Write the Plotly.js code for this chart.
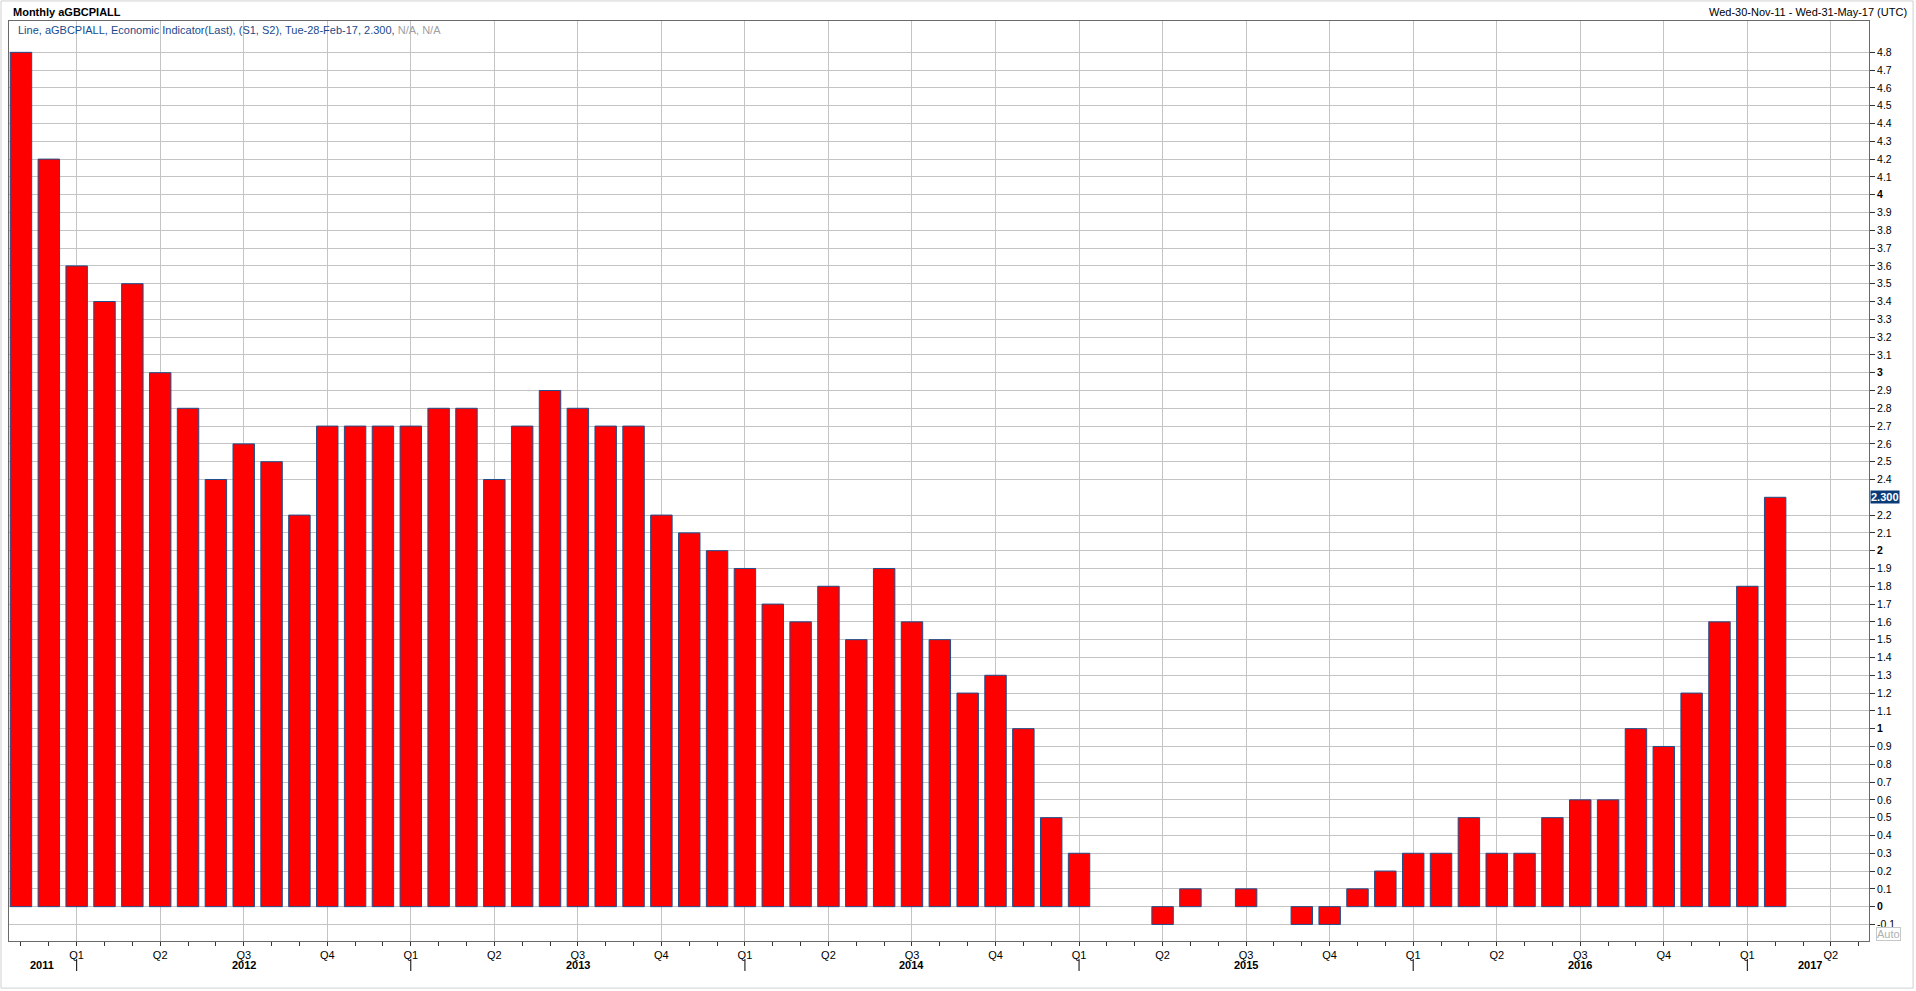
<!DOCTYPE html>
<html>
<head>
<meta charset="utf-8">
<script src="https://cdn.plot.ly/plotly-3.0.1.min.js"></script>
<style>
  html, body { margin: 0; padding: 0; background: #ffffff; }
  #chart { width: 1916px; height: 991px; }
</style>
</head>
<body>
<div id="chart"></div>
<script>
// ---- Data (UK CPI, monthly, Nov 2011 - Feb 2017) ----
const months = [
  "2011-11","2011-12",
  "2012-01","2012-02","2012-03","2012-04","2012-05","2012-06","2012-07","2012-08","2012-09","2012-10","2012-11","2012-12",
  "2013-01","2013-02","2013-03","2013-04","2013-05","2013-06","2013-07","2013-08","2013-09","2013-10","2013-11","2013-12",
  "2014-01","2014-02","2014-03","2014-04","2014-05","2014-06","2014-07","2014-08","2014-09","2014-10","2014-11","2014-12",
  "2015-01","2015-02","2015-03","2015-04","2015-05","2015-06","2015-07","2015-08","2015-09","2015-10","2015-11","2015-12",
  "2016-01","2016-02","2016-03","2016-04","2016-05","2016-06","2016-07","2016-08","2016-09","2016-10","2016-11","2016-12",
  "2017-01","2017-02"
];
const cpiValues = [
  4.8, 4.2,
  3.6, 3.4, 3.5, 3.0, 2.8, 2.4, 2.6, 2.5, 2.2, 2.7, 2.7, 2.7,
  2.7, 2.8, 2.8, 2.4, 2.7, 2.9, 2.8, 2.7, 2.7, 2.2, 2.1, 2.0,
  1.9, 1.7, 1.6, 1.8, 1.5, 1.9, 1.6, 1.5, 1.2, 1.3, 1.0, 0.5,
  0.3, 0.0, 0.0, -0.1, 0.1, 0.0, 0.1, 0.0, -0.1, -0.1, 0.1, 0.2,
  0.3, 0.3, 0.5, 0.3, 0.3, 0.5, 0.6, 0.6, 1.0, 0.9, 1.2, 1.6,
  1.8, 2.3
];
const yearLabels = ["2011","2012","2013","2014","2015","2016","2017"];
const quarterLabels = ["Q1","Q2","Q3","Q4"];
const lastValueLabel = "2.300";
const headerTitle = "Monthly aGBCPIALL";
const headerRange = "Wed-30-Nov-11 - Wed-31-May-17 (UTC)";
const seriesInfo = "Line, aGBCPIALL, Economic Indicator(Last), (S1, S2), Tue-28-Feb-17, 2.300";
const seriesInfoNA = "N/A, N/A";

// ---- Axis helpers ----
const startYear = 2011, startMonth = 11;      // first bar month
const windowEnd = 66;                          // May 2017 (end of the displayed window)
const xIdx = months.map((m, i) => i);
function monthOf(i) { return ((startMonth - 1 + i) % 12) + 1; }
function yearOf(i) { return startYear + Math.floor((startMonth - 1 + i) / 12); }

const qVals = [], qText = [], janIdx = [];
for (let i = 0; i <= windowEnd; i++) {
  const m = monthOf(i);
  if ((m - 1) % 3 === 0) { qVals.push(i); qText.push(quarterLabels[(m - 1) / 3]); }
  if (m === 1) janIdx.push(i);
}

// y ticks every 0.1, integers bold
const yVals = [], yText = [];
for (let k = -1; k <= 48; k++) {
  const v = k / 10;
  if (Math.abs(v - 2.3) < 1e-9) continue;
  yVals.push(v);
  yText.push(k % 10 === 0 ? "<b>" + (k / 10) + "</b>" : v.toFixed(1));
}

const FONT = "Tahoma, 'Liberation Sans', Arial, sans-serif";

const annotations = [];
// year labels
yearLabels.forEach(y => {
  const yr = parseInt(y, 10);
  const idxs = [];
  for (let i = 0; i <= windowEnd; i++) if (yearOf(i) === yr) idxs.push(i);
  let xpos;
  const jul = idxs.find(i => monthOf(i) === 7);
  if (idxs.length === 12 && jul !== undefined) xpos = jul;
  else xpos = idxs.reduce((a, b) => a + b, 0) / idxs.length + 0.25;
  annotations.push({
    x: xpos, xref: "x", y: -0.026, yref: "paper",
    text: "<b>" + y + "</b>", showarrow: false,
    xanchor: "center", yanchor: "middle",
    font: { family: FONT, size: 11, color: "#000" }
  });
});
// header
annotations.push({
  x: 0.001, xref: "paper", y: 1.0098, yref: "paper",
  text: "<b>" + headerTitle + "</b>", showarrow: false,
  xanchor: "left", yanchor: "middle",
  font: { family: FONT, size: 11, color: "#000" }
});
annotations.push({
  x: 1.0215, xref: "paper", y: 1.0098, yref: "paper",
  text: headerRange, showarrow: false,
  xanchor: "right", yanchor: "middle",
  font: { family: FONT, size: 11, color: "#000" }
});
annotations.push({
  x: 0.0035, xref: "paper", y: 0.9898, yref: "paper",
  text: seriesInfo + ", <span style='color:#a0a0a0'>" + seriesInfoNA + "</span>",
  showarrow: false, xanchor: "left", yanchor: "middle",
  font: { family: FONT, size: 11, color: "#1a4a8c" }
});
// last value tag
annotations.push({
  x: 1.0006, xref: "paper", y: cpiValues[cpiValues.length - 1], yref: "y",
  text: "<b>" + lastValueLabel + "</b>", showarrow: false,
  xanchor: "left", yanchor: "middle",
  bgcolor: "#0b3a78", borderpad: 0,
  font: { family: FONT, size: 11, color: "#ffffff" }
});
// Auto button
annotations.push({
  x: 1.004, xref: "paper", y: 0.0005, yref: "paper",
  text: "Auto", showarrow: false,
  xanchor: "left", yanchor: "bottom",
  bordercolor: "#c8c8c8", borderwidth: 1, borderpad: 0,
  font: { family: FONT, size: 11, color: "#b0b0b0" }
});

const shapes = janIdx.map(i => ({
  type: "line", xref: "x", yref: "paper",
  x0: i, x1: i, y0: -0.0196, y1: -0.0326,
  line: { color: "#000", width: 1 }
}));
// outer frame
shapes.push({
  type: "rect", xref: "paper", yref: "paper",
  x0: -0.0043, x1: 1.0237, y0: -0.0512, y1: 1.0218,
  line: { color: "#d0d0d0", width: 1 }
});

// zero-height bars draw no outline (as in the reference)
const outlineWidths = cpiValues.map(v => (v === 0 ? 0 : 1));

const trace = {
  type: "bar",
  x: xIdx,
  y: cpiValues,
  width: 0.77,
  marker: { color: "#ff0000", line: { color: "#1f4e8a", width: outlineWidths } },
  hoverinfo: "y"
};

const layout = {
  width: 1916, height: 991,
  margin: { l: 9, r: 47, t: 21, b: 50 },
  paper_bgcolor: "#ffffff", plot_bgcolor: "#ffffff",
  showlegend: false,
  bargap: 0,
  font: { family: FONT, size: 11, color: "#000" },
  xaxis: {
    range: [-0.43, 66.37],
    tickmode: "array", tickvals: qVals, ticktext: qText,
    ticks: "outside", ticklen: 4, tickcolor: "#333",
    minor: { dtick: 1, tick0: 0, ticks: "outside", ticklen: 4, tickcolor: "#333", showgrid: false },
    showgrid: true, gridcolor: "#c4c4c4", gridwidth: 1,
    showline: true, linecolor: "#6a6a6a", linewidth: 1, mirror: true,
    zeroline: false,
    tickfont: { family: FONT, size: 11, color: "#000" },
    fixedrange: true
  },
  yaxis: {
    side: "right",
    range: [-0.193, 4.976],
    tickmode: "array", tickvals: yVals, ticktext: yText,
    ticks: "outside", ticklen: 5, tickcolor: "#333",
    showgrid: true, gridcolor: "#c4c4c4", gridwidth: 1,
    showline: true, linecolor: "#6a6a6a", linewidth: 1, mirror: true,
    zeroline: false,
    tickfont: { family: FONT, size: 10.5, color: "#000" },
    fixedrange: true
  },
  annotations: annotations,
  shapes: shapes
};

Plotly.newPlot("chart", [trace], layout, { displayModeBar: false, staticPlot: true });
</script>
</body>
</html>
